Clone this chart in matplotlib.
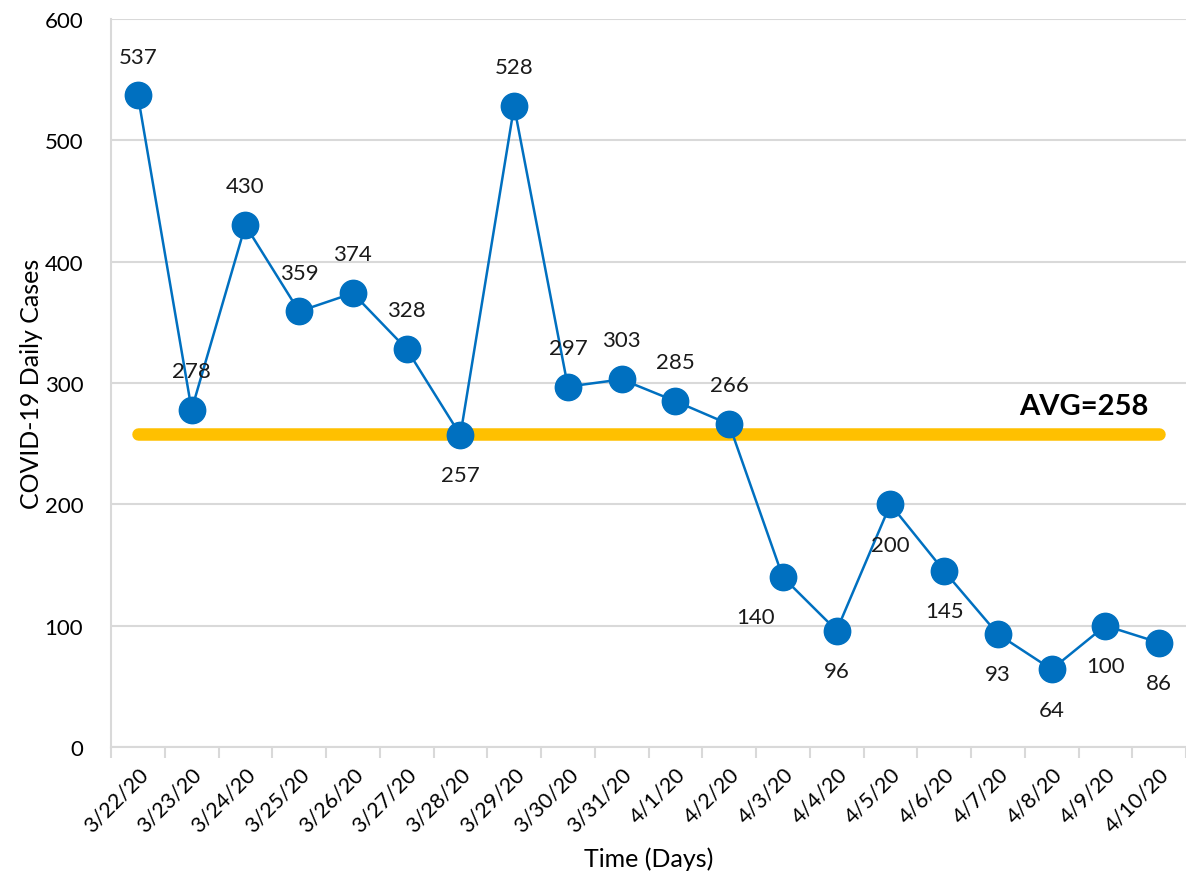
import matplotlib.pyplot as plt
import numpy as np

dates = ["3/22/20", "3/23/20", "3/24/20", "3/25/20", "3/26/20", "3/27/20", "3/28/20",
         "3/29/20", "3/30/20", "3/31/20", "4/1/20", "4/2/20", "4/3/20", "4/4/20",
         "4/5/20", "4/6/20", "4/7/20", "4/8/20", "4/9/20", "4/10/20"]
cases = [537, 278, 430, 359, 374, 328, 257, 528, 297, 303, 285, 266, 140, 96,
         200, 145, 93, 64, 100, 86]
avg = 258
# label placement: 'a' above, 'b' below, 'bl' below-left
label_pos = ["a", "a", "a", "a", "a", "a", "b", "a", "a", "a", "a", "a", "bl", "b",
             "b", "b", "b", "b", "b", "b"]

plt.rcParams['font.family'] = ['Lato', 'DejaVu Sans']

fig = plt.figure(figsize=(11.86, 8.87), dpi=100)
ax = fig.add_axes([111/1186, 1 - 748/887, 1075/1186, 728/887])

x = np.arange(len(dates))
ax.plot([x[0], x[-1]], [avg, avg], color="#FFC000", lw=9, solid_capstyle="round", zorder=2)
ax.plot(x, cases, color="#0070C0", lw=1.8, marker="o", ms=19, zorder=3)

for i, v in enumerate(cases):
    p = label_pos[i]
    if p == "a":
        off = (0, 28)
    elif p == "b":
        off = (0, -29)
    else:
        off = (-20, -29)
    ax.annotate(str(v), (i, v), xytext=off, textcoords="offset points",
                ha="center", va="center", fontsize=16, color="#1a1a1a")

ax.text(17.6, avg + 23, "AVG=258", fontsize=21, fontweight="bold",
        ha="center", va="center", color="black")

ax.set_ylim(0, 600)
ax.set_xlim(-0.5, 19.37)
ax.set_yticks(range(0, 601, 100))
ax.set_xticks(x)
ax.set_xticklabels(dates, rotation=45, ha="right", rotation_mode="anchor", fontsize=15.5)
ax.set_xticks(np.arange(-0.5, 19.6, 1), minor=True)
ax.tick_params(axis="x", which="major", length=0, pad=12)
ax.tick_params(axis="x", which="minor", length=8, color="#D9D9D9", width=1.5)
ax.tick_params(axis="y", length=0, labelsize=16, pad=20)
ax.grid(axis="y", color="#D9D9D9", lw=1.5)
ax.set_axisbelow(True)
for s in ["top", "right"]:
    ax.spines[s].set_visible(False)
for s in ["left", "bottom"]:
    ax.spines[s].set_color("#D9D9D9")
    ax.spines[s].set_linewidth(1.5)

ax.set_ylabel("COVID-19 Daily Cases", fontsize=18)
ax.yaxis.set_label_coords(-0.063, 0.5)
ax.set_xlabel("Time (Days)", fontsize=18, labelpad=8)

fig.savefig("out.png", dpi=100)
